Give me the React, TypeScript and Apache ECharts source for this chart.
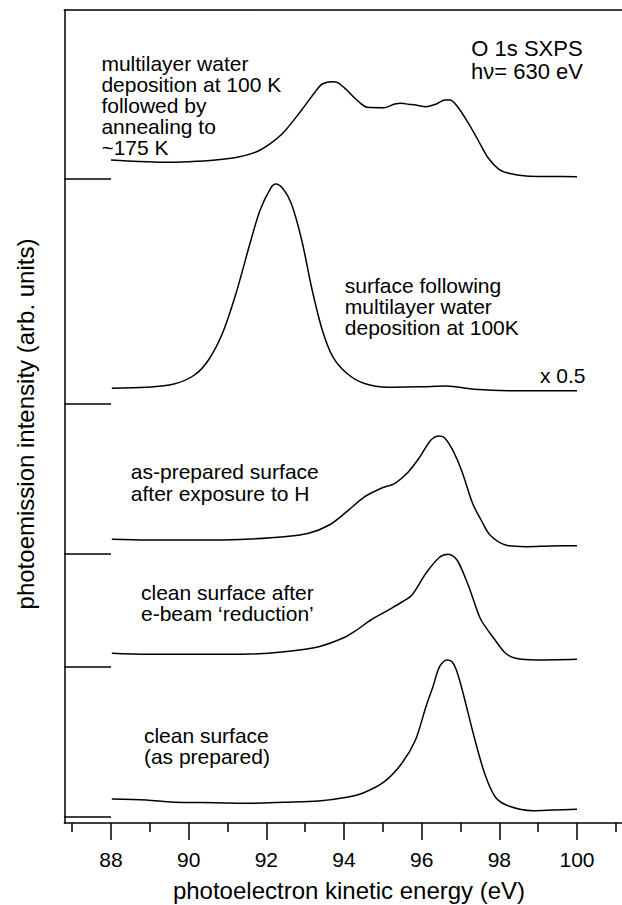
import React, { useEffect, useRef } from "react";
import * as echarts from "echarts";

// x range (eV) shown by the frame
const X_MIN = 86.797;
const X_MAX = 101.159;
const Y_MAX = 813;

const majorTicks = [88, 90, 92, 94, 96, 98, 100];
const minorTicks = [87, 89, 91, 93, 95, 97, 99, 101];

// vertical offsets (baselines) of the stacked spectra, arb. units
const offsets = [644, 419, 269, 156, 6];
const baselineStart = 88;

// 1: multilayer water + annealing to ~175 K
const e1 = [88.0, 88.7, 89.35, 90.0, 90.69, 91.31, 91.75, 92.11, 92.46, 92.91, 93.26, 93.44, 93.71, 93.84, 94.07, 94.33, 94.6, 95.04, 95.31, 95.49, 95.66, 95.84, 96.11, 96.38, 96.6, 96.73, 96.91, 97.18, 97.45, 97.72, 97.99, 98.24, 98.69, 99.3, 100.0];
const i1 = [19, 17.5, 16.7, 17.3, 19, 22.3, 27.3, 35.7, 47.3, 69, 87.3, 95, 97.3, 96.3, 89, 79, 71.7, 71.3, 75, 75.7, 74.7, 74, 72.3, 75, 79, 79, 73, 57.3, 39, 20.7, 9.7, 5.7, 3, 2.5, 2.3];

// 2: surface following multilayer water deposition at 100K (x 0.5)
const e2 = [88.02, 88.91, 89.62, 90.15, 90.51, 90.87, 91.22, 91.58, 91.84, 92.11, 92.24, 92.42, 92.64, 92.91, 93.18, 93.44, 93.71, 94.07, 94.51, 95.13, 96.02, 96.64, 97.35, 98.24, 100.0];
const i2 = [15.7, 16.7, 20, 29, 44, 70.7, 110.7, 160.7, 194, 215.7, 220, 215.7, 200.7, 164, 114, 74, 47.3, 30.7, 20.7, 16.7, 17.3, 18, 14.7, 13.3, 13.3];

// 3: as-prepared surface after exposure to H
const e3 = [88.02, 88.91, 89.8, 90.69, 91.58, 92.46, 93.09, 93.62, 94.07, 94.51, 94.96, 95.31, 95.66, 95.93, 96.24, 96.46, 96.6, 96.82, 97.04, 97.31, 97.53, 97.76, 98.16, 98.69, 99.32, 100.0];
const i3 = [14.7, 14, 14, 14, 15, 17.3, 20.7, 29, 42.3, 56.7, 65.7, 70.7, 82.3, 95.7, 114, 118, 115.7, 102.3, 82.3, 50.7, 34, 19, 9, 7.3, 8, 8.3];

// 4: clean surface after e-beam 'reduction'
const e4 = [88.02, 88.91, 90.24, 91.58, 92.46, 93.35, 94.02, 94.33, 94.69, 95.22, 95.49, 95.75, 96.11, 96.46, 96.69, 96.91, 97.18, 97.35, 97.53, 97.89, 98.16, 98.42, 98.96, 100.0];
const i4 = [13.7, 12.7, 12.7, 13, 15.3, 20.3, 29.7, 37, 47, 58.7, 65, 72, 93.7, 109.7, 112.7, 107, 83.7, 65.3, 47, 27, 13.7, 8.7, 7, 7.7];

// 5: clean surface (as prepared)
const e5 = [88.02, 88.91, 89.62, 90.69, 91.58, 92.46, 93.35, 94.07, 94.51, 95.04, 95.49, 95.84, 96.11, 96.29, 96.46, 96.64, 96.78, 96.91, 97.09, 97.35, 97.62, 97.89, 98.24, 98.87, 99.4, 100.0];
const i5 = [18, 17, 14.7, 14.3, 13.7, 14.7, 16, 19.7, 24.3, 35.3, 53.7, 77, 110.3, 130.3, 150.3, 157, 155.3, 145.3, 120.3, 80.3, 43.7, 20.3, 11, 6.3, 7, 7.7];

const spectraNames = [
  "multilayer water deposition at 100 K followed by annealing to ~175 K",
  "surface following multilayer water deposition at 100K",
  "as-prepared surface after exposure to H",
  "clean surface after e-beam 'reduction'",
  "clean surface (as prepared)",
];
const energies = [e1, e2, e3, e4, e5];
const intensities = [i1, i2, i3, i4, i5];

const FONT = "'Liberation Sans', Arial, Helvetica, sans-serif";

export default function App() {
  const ref = useRef<HTMLDivElement>(null);
  useEffect(() => {
    if (!ref.current) return;
    const chart = echarts.init(ref.current, undefined, { renderer: "svg" });
    const black = "#000";
    const spectraSeries = energies.map((es, k) => ({
      type: "line",
      name: spectraNames[k],
      xAxisIndex: 0,
      yAxisIndex: 0,
      data: es.map((e, j) => [e, offsets[k] + intensities[k][j]]),
      showSymbol: false,
      smooth: 0.3,
      lineStyle: { color: black, width: 1.5 },
      silent: true,
    }));
    const markSeries = offsets.map((o, k) => ({
      type: "line",
      name: "baseline " + (k + 1),
      xAxisIndex: 0,
      yAxisIndex: 0,
      data: [
        [X_MIN, o],
        [baselineStart, o],
      ],
      showSymbol: false,
      lineStyle: { color: black, width: 1.5 },
      silent: true,
    }));
    const txt = (
      text: string,
      x: number,
      y: number,
      align: string,
      lineHeight: number,
      size = 21
    ) => ({
      type: "text",
      x,
      y,
      style: {
        text,
        fill: black,
        font: `${size}px ${FONT}`,
        lineHeight,
        align,
        verticalAlign: "top",
      },
    });
    chart.setOption({
      animation: false,
      backgroundColor: "#fff",
      grid: { left: 64.3, top: 10, width: 622 - 64.3, height: 813, containLabel: false },
      xAxis: [
        {
          type: "value",
          min: X_MIN,
          max: X_MAX,
          position: "bottom",
          axisLine: { show: true, onZero: false, lineStyle: { color: black, width: 1.5 } },
          axisTick: { show: true, inside: false, length: 17, customValues: majorTicks, lineStyle: { color: black, width: 1.5 } },
          axisLabel: {
            show: true,
            customValues: majorTicks,
            margin: 26,
            color: black,
            fontSize: 21,
            fontFamily: FONT,
          },
          splitLine: { show: false },
        },
        {
          type: "value",
          min: X_MIN,
          max: X_MAX,
          position: "bottom",
          axisLine: { show: false, onZero: false },
          axisTick: { show: true, inside: false, length: 9, customValues: minorTicks, lineStyle: { color: black, width: 1.5 } },
          axisLabel: { show: false },
          splitLine: { show: false },
        },
        {
          type: "value",
          min: X_MIN,
          max: X_MAX,
          position: "top",
          axisLine: { show: true, onZero: false, lineStyle: { color: black, width: 1.5 } },
          axisTick: { show: false },
          axisLabel: { show: false },
          splitLine: { show: false },
        },
      ],
      yAxis: {
        type: "value",
        min: 0,
        max: Y_MAX,
        axisLine: { show: true, onZero: false, lineStyle: { color: black, width: 1.5 } },
        axisTick: { show: false },
        axisLabel: { show: false },
        splitLine: { show: false },
      },
      series: [...spectraSeries, ...markSeries],
      graphic: [
        {
          type: "text",
          x: 349,
          y: 890,
          style: {
            text: "photoelectron kinetic energy (eV)",
            fill: black,
            font: `24px ${FONT}`,
            align: "center",
            verticalAlign: "middle",
          },
        },
        {
          type: "text",
          x: 25,
          y: 424,
          rotation: Math.PI / 2,
          style: {
            text: "photoemission intensity (arb. units)",
            fill: black,
            font: `24px ${FONT}`,
            align: "center",
            verticalAlign: "middle",
          },
        },
        txt("multilayer water\ndeposition at 100 K\nfollowed by\nannealing to\n~175 K", 101.4, 52.5, "left", 21),
        txt("O 1s SXPS\nh\u03bd= 630 eV", 527, 36.5, "center", 23, 22),
        txt("surface following\nmultilayer water\ndeposition at 100K", 344.8, 274.5, "left", 21),
        txt("x 0.5", 540, 364, "left", 22),
        txt("as-prepared surface\nafter exposure to H", 130.8, 461, "left", 21.5),
        txt("clean surface after\ne-beam \u2018reduction\u2019", 141, 581.5, "left", 21),
        txt("clean surface\n(as prepared)", 143.9, 724.5, "left", 21),
      ],
    });
    return () => chart.dispose();
  }, []);
  return (
    <div
      ref={ref}
      style={{ position: "absolute", left: 0, top: 0, width: 622, height: 905, background: "#fff" }}
    />
  );
}
